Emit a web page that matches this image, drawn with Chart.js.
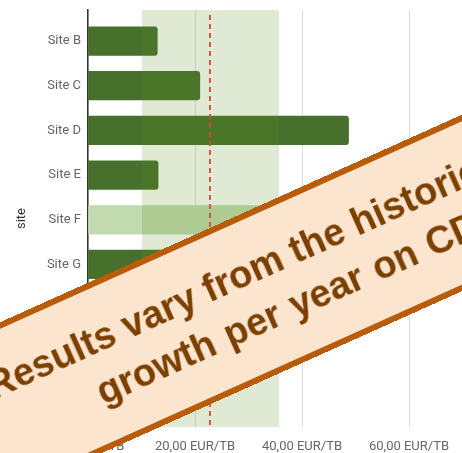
<!DOCTYPE html>
<html>
<head>
<meta charset="utf-8">
<script src="https://cdn.jsdelivr.net/npm/chart.js@4"></script>
<style>
  html, body { margin: 0; padding: 0; background: #fff; }
  #wrap { position: relative; width: 462px; height: 453px; overflow: hidden; }
  #chart { position: absolute; left: 0; top: 0; }
  #notice {
    position: absolute;
    left: -194px; top: 215px;
    width: 900px; height: 161px;
    box-sizing: border-box;
    border: 6px solid #b85c0a;
    background: #fce5cf;
    color: #7b3f00;
    font: bold 38px "Liberation Sans", Arial, sans-serif;
    line-height: 50px;
    padding-top: 24px;
    white-space: nowrap;
    transform: rotate(-24.2deg);
  }
  #notice span { display: block; }
  #notice .l1 { margin-left: 162px; }
  #notice .l2 { margin-left: 260px; word-spacing: 2px; }
</style>
</head>
<body>
<div id="wrap">
  <canvas id="chart" width="576" height="453"></canvas>
  <div id="notice"><span class="l1">Results vary from the historic</span><span class="l2">growth per year on CD</span></div>
</div>
<script>
// cost per TB by site
const sites = ['Site B', 'Site C', 'Site D', 'Site E', 'Site F', 'Site G', 'Site H', 'Site I', 'Site J'];
const costPerTB = [12.95, 20.9, 48.7, 13.1, 38, 20, 18, 25, 15];
const highlightSite = 'Site F';
const xTicks = [0, 20, 40, 60, 80];

// expected range and historic average
const rangeLow = 10.1;
const rangeHigh = 35.7;
const historicAvg = 22.8;

const fmtEur = v => v.toFixed(2).replace('.', ',') + ' EUR/TB';

// shaded range + dashed average line, drawn over the bars
const rangeBand = {
  id: 'rangeBand',
  afterDatasetsDraw(chart) {
    const {ctx, chartArea: a, scales: {x}} = chart;
    const x0 = x.getPixelForValue(rangeLow);
    const x1 = x.getPixelForValue(rangeHigh);
    ctx.save();
    ctx.fillStyle = 'rgba(95, 145, 40, 0.2)';
    ctx.fillRect(x0, a.top, x1 - x0, a.bottom - a.top);

    const xa = x.getPixelForValue(historicAvg);
    ctx.strokeStyle = 'rgba(214, 72, 56, 0.9)';
    ctx.lineWidth = 2;
    ctx.setLineDash([5, 4]);
    ctx.beginPath();
    ctx.moveTo(xa, a.top + 5);
    ctx.lineTo(xa, a.bottom);
    ctx.stroke();
    ctx.restore();
  }
};

Chart.defaults.font.family = 'Roboto';
Chart.defaults.font.size = 13;

new Chart(document.getElementById('chart'), {
  type: 'bar',
  data: {
    datasets: [{
      data: sites.map((s, i) => ({x: costPerTB[i], y: i})),
      backgroundColor: sites.map(s => s === highlightSite ? '#c2dab0' : '#46702b'),
      barThickness: 28.6,
      borderRadius: 3,
      borderSkipped: 'start'
    }]
  },
  options: {
    indexAxis: 'y',
    responsive: false,
    animation: false,
    devicePixelRatio: 1,
    layout: { padding: { top: 10, right: 60, left: 0, bottom: 0 } },
    plugins: {
      legend: { display: false },
      tooltip: { enabled: false }
    },
    scales: {
      x: {
        type: 'linear',
        min: 0,
        max: 80,
        afterBuildTicks: s => { s.ticks = xTicks.map(v => ({value: v})); },
        afterFit: s => { s.height = 26; },
        ticks: { color: '#666', padding: 12, callback: v => fmtEur(v) },
        grid: { color: '#dcdcdc', drawTicks: false },
        border: { display: false }
      },
      y: {
        type: 'linear',
        reverse: true,
        offset: false,
        bounds: 'data',
        min: -0.694,
        max: 8.636,
        afterBuildTicks: s => { s.ticks = sites.map((n, i) => ({value: i})); },
        afterFit: s => { s.width = 88; s.paddingTop = 0; s.paddingBottom = 0; },
        ticks: { color: '#666', padding: 7, callback: v => sites[v] },
        grid: { display: false, drawTicks: false, offset: false },
        border: { color: '#333', width: 1.5 },
        title: { display: true, text: 'site', color: '#333', font: { size: 13 }, padding: { top: 14, bottom: 0 } }
      }
    }
  },
  plugins: [rangeBand]
});
</script>
</body>
</html>
